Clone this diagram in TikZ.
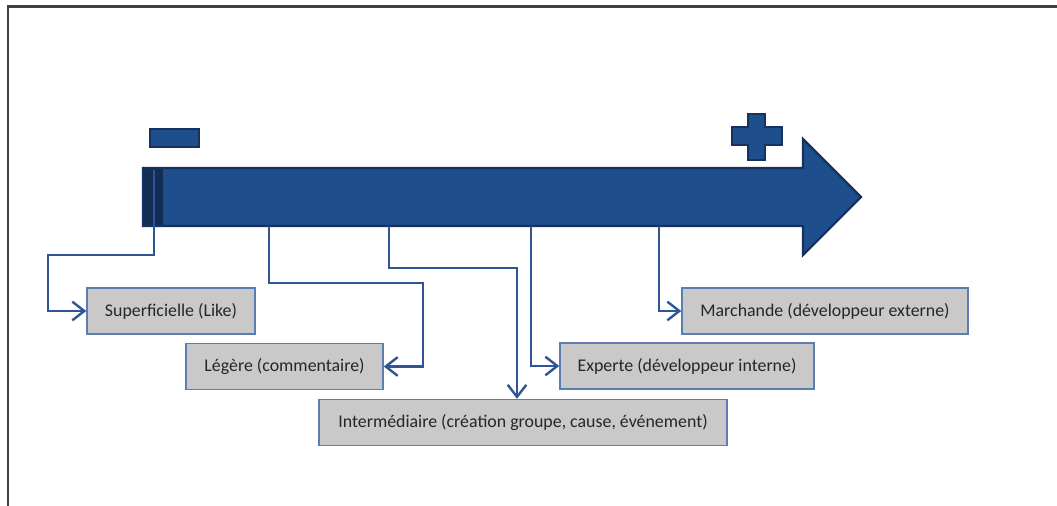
\documentclass[tikz,border=0pt]{standalone}
\usepackage{fontspec}
\setmainfont{Carlito}
\usetikzlibrary{arrows.meta}
\definecolor{arrowfill}{HTML}{1F4E8C}
\definecolor{arrowdark}{HTML}{15325E}
\definecolor{band}{HTML}{132D55}
\definecolor{conn}{HTML}{2F5597}
\definecolor{boxfill}{HTML}{C9C9C9}
\definecolor{boxline}{HTML}{5A7DB2}
\definecolor{framecol}{HTML}{404040}
\definecolor{txt}{HTML}{262626}
\begin{document}
\begin{tikzpicture}[x=0.75pt,y=-0.75pt,
  levelbox/.style={draw=boxline, line width=1.1pt, fill=boxfill, minimum height=34.5pt, inner sep=0pt, font=\fontsize{13.4}{16}\selectfont, text=txt},
  link/.style={draw=conn, line width=1.8pt, -{Straight Barb[length=9pt,width=14pt,line width=1.8pt]}},
  shapeline/.style={fill=arrowfill, draw=arrowdark, line width=1.8pt, line join=miter}
]
\useasboundingbox (0,0) rectangle (1057,506);
\draw[framecol, line width=1.6pt] (8,506) -- (8,6.5) -- (1057,6.5);

% big arrow
\path[shapeline] (143,168) -- (803,168) -- (803,139) -- (861,197) -- (803,255) -- (803,226) -- (143,226) -- cycle;
\fill[band] (144,169) rectangle (163,225);

% minus and plus
\path[shapeline] (150,129) rectangle (199,147);
\path[shapeline] (748,114) -- (765,114) -- (765,127) -- (782,127) -- (782,145) -- (765,145) -- (765,160) -- (748,160) -- (748,145) -- (732,145) -- (732,127) -- (748,127) -- cycle;

% boxes
\node[levelbox, minimum width=126pt] (sup) at (171,311) {Superficielle (Like)};
\node[levelbox, minimum width=147.75pt] (leg) at (284.5,366.5) {Légère (commentaire)};
\node[levelbox, minimum width=306pt] (int) at (523,422.5) {Intermédiaire (création groupe, cause, événement)};
\node[levelbox, minimum width=190.5pt] (exp) at (687,366) {Experte (développeur interne)};
\node[levelbox, minimum width=214.5pt] (mar) at (825,311) {Marchande (développeur externe)};

% connector origins
\coordinate (c1) at (154,170);
\coordinate (c2) at (269,226);
\coordinate (c3) at (389,226);
\coordinate (c4) at (531,226);
\coordinate (c5) at (659,226);
\coordinate (k1) at (48,255);
\coordinate (k2) at (423,283);
\coordinate (k3) at (517,268);

\draw[link] (c1) |- (k1) |- (sup.west);
\draw[link] (c2) |- (k2) |- (leg.east);
\draw[link] (c3) |- (k3) -- (k3 |- int.north);
\draw[link] (c4) |- (exp.west);
\draw[link] (c5) |- (mar.west);
\end{tikzpicture}
\end{document}
